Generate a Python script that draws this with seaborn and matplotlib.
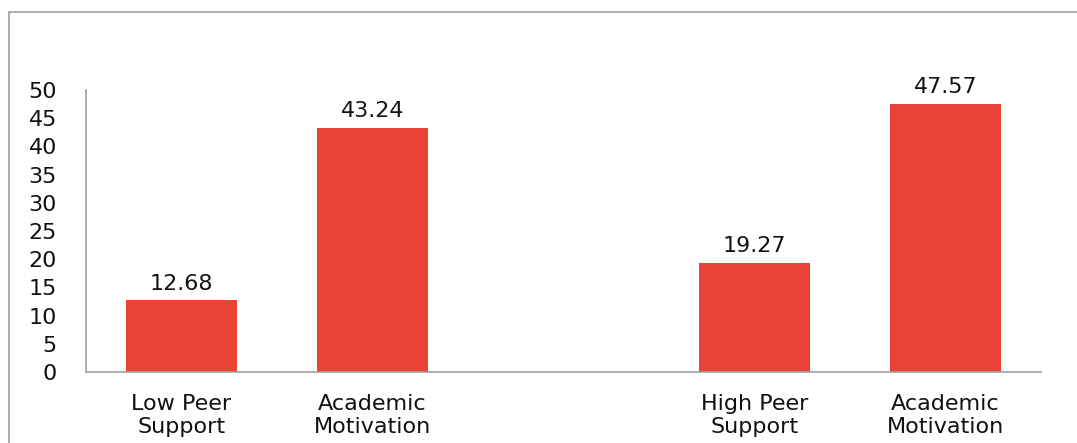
import matplotlib
matplotlib.use("Agg")
import matplotlib.pyplot as plt
import seaborn as sns
import numpy as np
from matplotlib.patches import Rectangle

categories = ["Low Peer\nSupport", "Academic\nMotivation", "High Peer\nSupport", "Academic\nMotivation"]
positions = [0, 1, 3, 4]
values = [12.68, 43.24, 19.27, 47.57]
value_labels = ["12.68", "43.24", "19.27", "47.57"]
yticks = [0, 5, 10, 15, 20, 25, 30, 35, 40, 45, 50]

sns.set_theme(style="white")
plt.rcParams['font.family'] = ['DejaVu Sans']

W, H = 1077, 443
fig = plt.figure(figsize=(W / 100, H / 100), dpi=100)
ax = fig.add_axes([86 / W, 71 / H, (1041 - 86) / W, (372 - 90) / H])

sns.barplot(x=positions, y=values, native_scale=True, color="#EA4335",
            saturation=1, width=0.58, linewidth=0, ax=ax)
ax.bar_label(ax.containers[0], labels=value_labels, padding=5, fontsize=16, color="#111111")

ax.set_xlim(-0.5, 4.5)
ax.set_ylim(0, 50)
ax.set_yticks(yticks)
ax.set_yticklabels([str(t) for t in yticks])
ax.set_xticks(positions)
ax.set_xticklabels(categories, linespacing=1.2)
ax.tick_params(axis="y", length=0, pad=21, labelsize=16, labelcolor="#111111")
ax.tick_params(axis="x", length=0, pad=16, labelsize=16, labelcolor="#111111")
for lab in ax.get_yticklabels():
    lab.set_horizontalalignment("right")
ax.set_xlabel("")
ax.set_ylabel("")

for s in ["top", "right"]:
    ax.spines[s].set_visible(False)
for s in ["left", "bottom"]:
    ax.spines[s].set_color("#a0a0a0")
    ax.spines[s].set_linewidth(1.2)

fig.patches.append(Rectangle((9 / W, -0.1), 1.2, 1 - 12 / H + 0.1, transform=fig.transFigure,
                             fill=False, edgecolor="#a0a0a0", linewidth=1.2))

fig.savefig("out.png", dpi=100, facecolor="white")
